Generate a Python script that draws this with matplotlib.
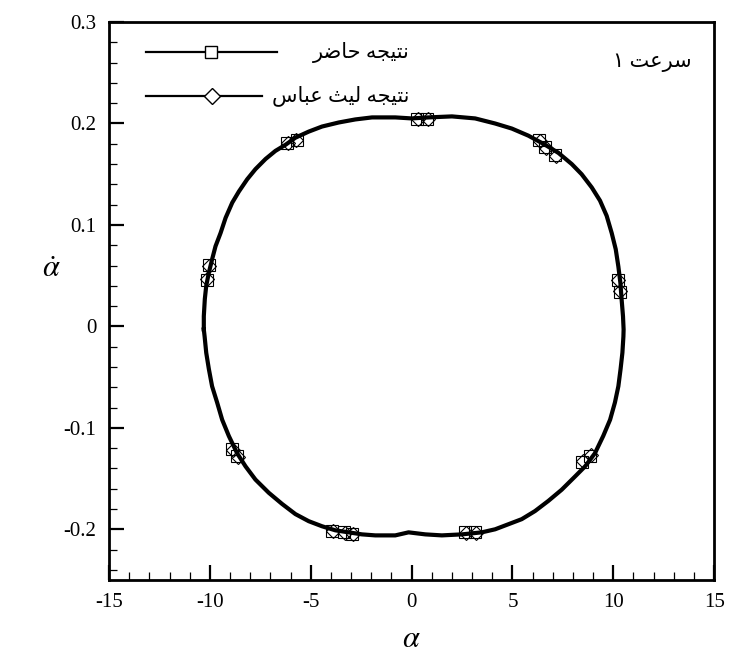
import numpy as np
import matplotlib
matplotlib.use("Agg")
import matplotlib.pyplot as plt
from matplotlib.ticker import MultipleLocator, FuncFormatter

plt.rcParams['font.family'] = ['Liberation Serif', 'DejaVu Sans']
plt.rcParams['mathtext.fontset'] = 'stix'
plt.rcParams['axes.unicode_minus'] = False

# phase portrait (alpha, alpha_dot), clockwise from the left side
alpha = [-10.30, -10.30, -10.25, -10.18, -10.05, -9.89, -9.72, -9.47, -9.22, -8.89,
         -8.56, -8.15, -7.74, -7.24, -6.75, -6.25, -5.76, -5.10, -4.44, -3.61,
         -2.79, -1.96, -0.81, 0.0, 0.84, 2.00, 3.15, 4.14, 4.97, 5.79, 6.62, 7.28,
         7.94, 8.43, 8.93, 9.34, 9.67, 9.92, 10.12, 10.25, 10.35, 10.41, 10.48,
         10.51, 10.50, 10.45, 10.36, 10.25, 10.08, 9.84, 9.50, 9.09, 8.60, 8.10,
         7.44, 6.78, 6.12, 5.46, 4.80, 4.14, 3.48, 2.49, 1.50, 0.68, -0.15, -0.81,
         -1.80, -2.46, -3.12, -3.78, -4.44, -5.10, -5.76, -6.42, -7.08, -7.74,
         -8.23, -8.65, -9.06, -9.39, -9.64, -9.89, -10.05, -10.18, -10.26, -10.30]
alpha_dot = [-0.003, 0.010, 0.027, 0.040, 0.053, 0.066, 0.079, 0.092, 0.107, 0.122,
             0.133, 0.145, 0.155, 0.165, 0.173, 0.179, 0.186, 0.192, 0.197, 0.201,
             0.204, 0.206, 0.206, 0.205, 0.206, 0.207, 0.205, 0.200, 0.195, 0.188,
             0.179, 0.171, 0.160, 0.150, 0.137, 0.124, 0.109, 0.092, 0.076, 0.059,
             0.043, 0.027, 0.010, -0.003, -0.010, -0.026, -0.042, -0.059, -0.075,
             -0.092, -0.108, -0.125, -0.138, -0.148, -0.161, -0.172, -0.182, -0.190,
             -0.195, -0.200, -0.203, -0.205, -0.206, -0.205, -0.203, -0.206, -0.206,
             -0.205, -0.203, -0.201, -0.197, -0.192, -0.185, -0.175, -0.164, -0.151,
             -0.138, -0.125, -0.108, -0.092, -0.075, -0.059, -0.042, -0.026, -0.010,
             -0.003]

# marker samples: present result (squares) and Laith Abbas (diamonds)
sq_x = [0.25, 0.75, -6.2, -5.7, -10.05, -10.15, 6.3, 6.6, 7.1, 10.25, 10.35,
        -8.9, -8.65, -3.95, -3.35, -2.95, 2.65, 3.15, 8.45, 8.85]
sq_y = [0.204, 0.204, 0.181, 0.184, 0.061, 0.046, 0.184, 0.177, 0.169, 0.046,
        0.034, -0.121, -0.128, -0.202, -0.203, -0.205, -0.203, -0.203, -0.134, -0.128]
dm_x = [0.3, 0.8, -6.15, -5.75, -10.05, -10.15, 6.35, 6.65, 7.15, 10.25, 10.35,
        -8.85, -8.6, -3.9, -3.3, -2.9, 2.7, 3.2, 8.5, 8.9]
dm_y = [0.204, 0.204, 0.181, 0.184, 0.060, 0.047, 0.183, 0.176, 0.168, 0.046,
        0.035, -0.122, -0.129, -0.202, -0.204, -0.205, -0.204, -0.204, -0.133, -0.127]

# Persian labels, pre-shaped (presentation forms, visual order)
lbl_present = "ﺮﺿﺎﺣ ﻪﺠﻴﺘﻧ"        # نتیجه حاضر
lbl_abbas = "ﺱﺎﺒﻋ ﺚﻴﻟ ﻪﺠﻴﺘﻧ"      # نتیجه لیث عباس
lbl_speed = "۱ ﺖﻋﺮﺳ"              # سرعت ۱

fig = plt.figure(figsize=(7.34, 6.58), dpi=100)
ax = fig.add_axes([0.1485, 0.1185, 0.8245, 0.848])

ax.plot(alpha, alpha_dot, color='black', lw=3.0, zorder=2, solid_joinstyle='round')
ax.plot(sq_x, sq_y, ls='none', marker='s', ms=8.5, mfc='none', mec='black', mew=0.8, zorder=3)
ax.plot(dm_x, dm_y, ls='none', marker='D', ms=7.5, mfc='none', mec='black', mew=0.8,
        zorder=3)

ax.set_xlim(-15, 15)
ax.set_ylim(-0.25, 0.3)
ax.xaxis.set_major_locator(MultipleLocator(5))
ax.xaxis.set_minor_locator(MultipleLocator(1))
ax.yaxis.set_major_locator(MultipleLocator(0.1))
ax.yaxis.set_minor_locator(MultipleLocator(0.02))
fmt = FuncFormatter(lambda v, p: f"{round(v, 2):g}")
ax.xaxis.set_major_formatter(fmt)
ax.yaxis.set_major_formatter(fmt)
ax.tick_params(which='both', direction='in', top=False, right=False, labelsize=15)
ax.tick_params(which='major', length=11, width=1.6, pad=9)
ax.tick_params(which='minor', length=5.5, width=0.9)
for s in ax.spines.values():
    s.set_linewidth(2.0)

ax.set_xlabel(r'$\alpha$', fontsize=22, labelpad=10)
ax.set_ylabel(r'$\dot{\alpha}$', fontsize=22, rotation=0, labelpad=28)
ax.yaxis.set_label_coords(-0.095, 0.53)

# hand-made legend (lines to the left of right-aligned Persian text)
tr = ax.transAxes
ax.plot([0.061, 0.277], [0.946, 0.946], color='black', lw=1.6, transform=tr)
ax.plot([0.168], [0.946], marker='s', ms=8, mfc='white', mec='black', mew=1.0, transform=tr)
ax.text(0.497, 0.946, lbl_present, transform=tr, ha='right', va='center', fontsize=15)
ax.plot([0.061, 0.252], [0.867, 0.867], color='black', lw=1.6, transform=tr)
ax.plot([0.170], [0.867], marker='D', ms=8, mfc='white', mec='black', mew=1.0, transform=tr)
ax.text(0.497, 0.867, lbl_abbas, transform=tr, ha='right', va='center', fontsize=15)

ax.text(0.962, 0.928, lbl_speed, transform=tr, ha='right', va='center', fontsize=15)

fig.savefig('out.png', dpi=100)
